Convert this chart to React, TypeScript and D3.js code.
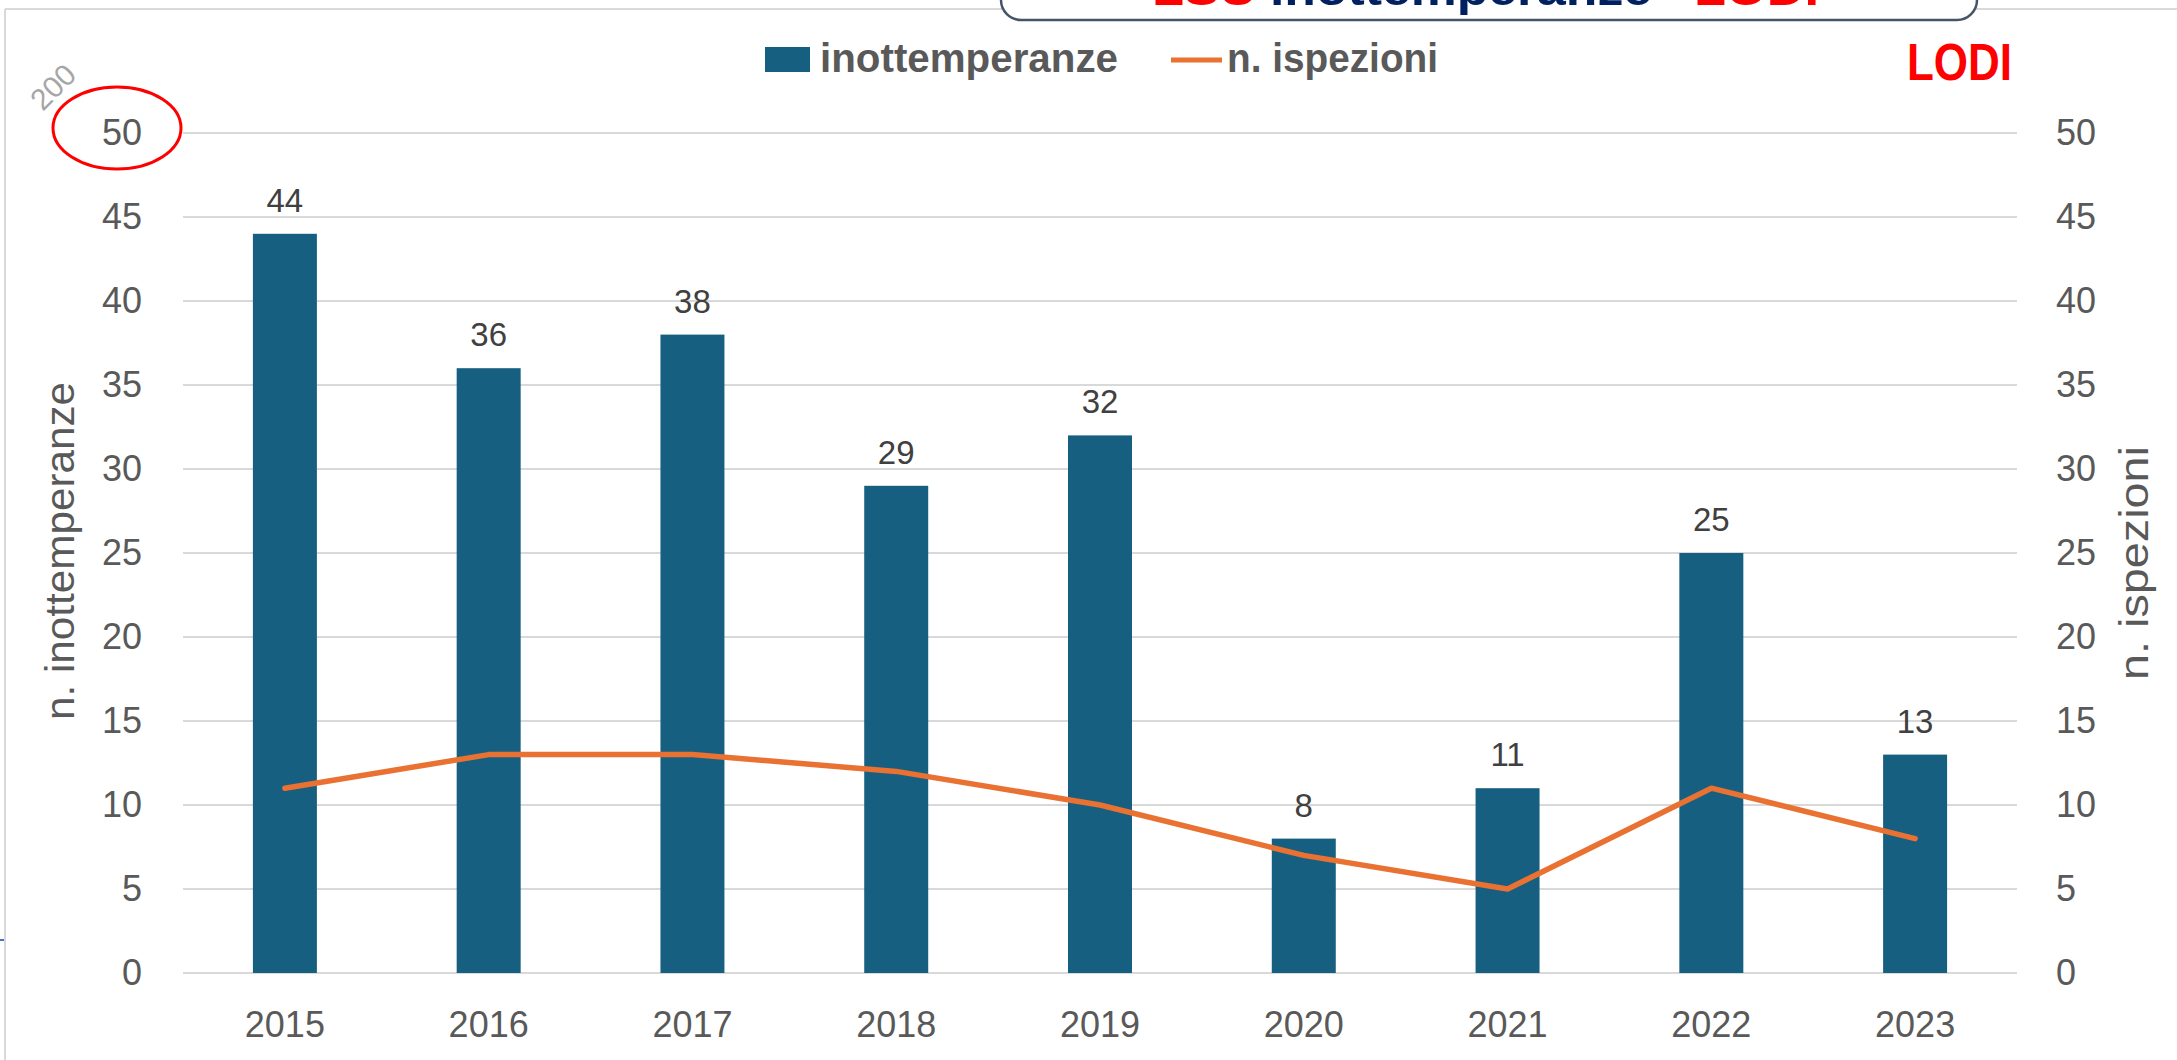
import React from 'react';
import * as d3 from 'd3';

const years = ['2015', '2016', '2017', '2018', '2019', '2020', '2021', '2022', '2023'];
const inottemperanze = [44, 36, 38, 29, 32, 8, 11, 25, 13];
const ispezioni = [11, 13, 13, 12, 10, 7, 5, 11, 8];
const yTicks = [0, 5, 10, 15, 20, 25, 30, 35, 40, 45, 50];

const W = 2177;
const H = 1060;
const BAR = '#165F80';
const LINE = '#E97132';
const GRID = '#D9D9D9';
const FONT = '"Liberation Sans", Arial, sans-serif';

const App = () => {
  // plot area
  const left = 183, right = 2017, top = 133, bottom = 973;

  const x = d3.scaleBand().domain(years).range([left, right]).padding(0);
  const barW = x.bandwidth() * 0.314;
  const y = d3.scaleLinear().domain([0, 50]).range([bottom, top]);
  const yR = d3.scaleLinear().domain([0, 50]).range([bottom, top]);

  const lineGen = d3.line<number>()
    .x((_, i) => x(years[i])! + x.bandwidth() / 2)
    .y(d => yR(d));

  return (
    <svg width={W} height={H} style={{ position: 'absolute', left: 0, top: 0, background: '#fff' }}>
      <rect x={0} y={0} width={W} height={H} fill="#fff" />

      {/* outer frame */}
      <line x1={5} y1={9} x2={5} y2={H} stroke={GRID} strokeWidth={2} />
      <line x1={5} y1={9} x2={W} y2={9} stroke={GRID} strokeWidth={2} />
      <line x1={0} y1={940} x2={4} y2={940} stroke="#4472C4" strokeWidth={2} />

      {/* title box (cut off at top) */}
      <rect x={1001} y={-40} width={976} height={60} rx={20} fill="#fff" stroke="#44546A" strokeWidth={2.5} />
      <text y={5} fontFamily={FONT} fontWeight="bold" fontSize={46}>
        <tspan x={1152} fill="#FF0000" textLength={105} lengthAdjust="spacingAndGlyphs">LSU</tspan>
        <tspan x={1270} fill="#002060" textLength={382} lengthAdjust="spacingAndGlyphs">inottemperanze</tspan>
        <tspan x={1694} fill="#FF0000" textLength={125} lengthAdjust="spacingAndGlyphs">LODI</tspan>
      </text>

      {/* gridlines */}
      {yTicks.map(t => (
        <line key={t} x1={left} x2={right} y1={y(t)} y2={y(t)} stroke={GRID} strokeWidth={2} />
      ))}

      {/* bars */}
      {inottemperanze.map((v, i) => (
        <rect key={years[i]} x={x(years[i])! + (x.bandwidth() - barW) / 2} y={y(v)}
          width={barW} height={bottom - y(v)} fill={BAR} />
      ))}

      {/* bar labels */}
      {inottemperanze.map((v, i) => (
        <text key={'l' + i} x={x(years[i])! + x.bandwidth() / 2} y={y(v) - 22} textAnchor="middle"
          fontFamily={FONT} fontSize={33} fill="#404040">{v}</text>
      ))}

      {/* line */}
      <path d={lineGen(ispezioni)!} fill="none" stroke={LINE} strokeWidth={5.5} strokeLinejoin="round" strokeLinecap="round" />

      {/* left axis */}
      {yTicks.map(t => (
        <text key={'yl' + t} x={142} y={y(t) + 12} textAnchor="end" fontFamily={FONT} fontSize={36} fill="#595959">{t}</text>
      ))}
      {/* right axis */}
      {yTicks.map(t => (
        <text key={'yr' + t} x={2056} y={yR(t) + 12} fontFamily={FONT} fontSize={36} fill="#595959">{t}</text>
      ))}
      {/* x axis */}
      {years.map(yr => (
        <text key={'x' + yr} x={x(yr)! + x.bandwidth() / 2} y={1037} textAnchor="middle" fontFamily={FONT} fontSize={36} fill="#595959">{yr}</text>
      ))}

      {/* axis titles */}
      <text transform={`translate(74, 551) rotate(-90)`} textAnchor="middle" fontFamily={FONT} fontSize={41} fill="#595959"
        textLength={338} lengthAdjust="spacingAndGlyphs">n. inottemperanze</text>
      <text transform={`translate(2148, 563) rotate(-90)`} textAnchor="middle" fontFamily={FONT} fontSize={41} fill="#595959"
        textLength={234} lengthAdjust="spacingAndGlyphs">n. ispezioni</text>

      {/* legend */}
      <rect x={765} y={47} width={45} height={25} fill={BAR} />
      <text x={820} y={72} fontFamily={FONT} fontWeight="bold" fontSize={40} fill="#595959" textLength={298} lengthAdjust="spacingAndGlyphs">inottemperanze</text>
      <line x1={1171} x2={1222} y1={60} y2={60} stroke={LINE} strokeWidth={5} />
      <text x={1227} y={72} fontFamily={FONT} fontWeight="bold" fontSize={40} fill="#595959" textLength={211} lengthAdjust="spacingAndGlyphs">n. ispezioni</text>

      <text x={1907} y={80} fontFamily={FONT} fontWeight="bold" fontSize={52} fill="#FF0000" textLength={105} lengthAdjust="spacingAndGlyphs">LODI</text>

      {/* annotation on the top tick */}
      <ellipse cx={117} cy={128} rx={64} ry={41} fill="none" stroke="#FF0000" strokeWidth={3} />
      <text transform="translate(53, 87) rotate(-45)" textAnchor="middle" dominantBaseline="central"
        fontFamily={FONT} fontSize={30} fill="#A6A6A6">200</text>
    </svg>
  );
};

export default App;
